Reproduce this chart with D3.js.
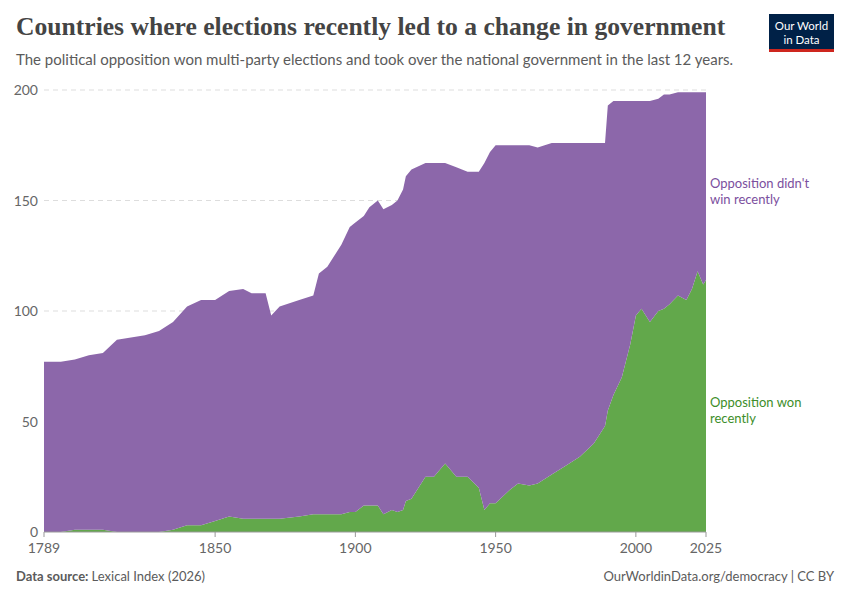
<!doctype html>
<html lang="en">
<head>
<meta charset="utf-8">
<script src="https://cdnjs.cloudflare.com/ajax/libs/d3/7.8.5/d3.min.js"></script>
<style>
body { margin: 0; background: #fff; font-family: Lato, "Noto Sans", sans-serif; }
</style>
</head>
<body>
<div id="chart"></div>
<script>
// data
var years = [1789,1795,1800,1805,1810,1815,1820,1825,1830,1835,1840,1845,1850,1855,1860,1863,1868,1870,1873,1880,1885,1887,1890,1895,1898,1900,1903,1905,1908,1910,1913,1915,1917,1918,1920,1925,1928,1932,1936,1940,1944,1946,1948,1950,1955,1958,1962,1965,1970,1975,1980,1985,1989,1990,1992,1995,1998,2000,2002,2005,2008,2010,2012,2015,2018,2020,2022,2024,2025];
var total = [77,77,78,80,81,87,88,89,91,95,102,105,105,109,110,108,108,98,102,105,107,117,120,130,138,140,143,147,150,146,148,150,155,161,164,167,167,167,165,163,163,167,172,175,175,175,175,174,176,176,176,176,176,193,195,195,195,195,195,195,196,198,198,199,199,199,199,199,199];
var won = [0,0,1,1,1,0,0,0,0,1,3,3,5,7,6,6,6,6,6,7,8,8,8,8,9,9,12,12,12,8,10,9,10,14,15,25,25,31,25,25,20,10,13,13,19,22,21,22,26,30,34,40,48,55,62,70,85,98,101,95,100,101,103,107,105,110,118,112,114];
var xTicks = [1789,1850,1900,1950,2000,2025];
var yTicks = [0,50,100,150,200];

var W = 850, H = 600;
var margin = {top: 90, right: 144, bottom: 68, left: 44};

var svg = d3.select("#chart").append("svg").attr("width", W).attr("height", H);

var x = d3.scaleLinear().domain([1789, 2025]).range([margin.left, W - margin.right]);
var y = d3.scaleLinear().domain([0, 200]).range([H - margin.bottom, margin.top]);

var rows = years.map(function(yr, i) { return {year: yr, won: won[i], other: total[i] - won[i]}; });
var stack = d3.stack().keys(["won", "other"])(rows);
var colors = {won: "#62a84b", other: "#8c67aa"};

// grid
svg.append("g").selectAll("line").data(yTicks.filter(function(d){ return d > 0; })).enter().append("line")
  .attr("x1", margin.left).attr("x2", W - margin.right)
  .attr("y1", function(d){ return y(d); }).attr("y2", function(d){ return y(d); })
  .attr("stroke", "#ddd").attr("stroke-dasharray", "5,4");

var area = d3.area()
  .x(function(d){ return x(d.data.year); })
  .y0(function(d){ return y(d[0]); })
  .y1(function(d){ return y(d[1]); });

svg.append("g").selectAll("path").data(stack).enter().append("path")
  .attr("d", area).attr("fill", function(d){ return colors[d.key]; });

// y labels
svg.append("g").selectAll("text").data(yTicks).enter().append("text")
  .attr("x", 38).attr("y", function(d){ return y(d) + 5; })
  .attr("text-anchor", "end").attr("font-size", 14).attr("fill", "#666").text(function(d){ return d; });

// x axis
svg.append("line").attr("x1", margin.left).attr("x2", W - margin.right)
  .attr("y1", y(0)).attr("y2", y(0)).attr("stroke", "#999");
var xg = svg.append("g").selectAll("g").data(xTicks).enter().append("g");
xg.append("line").attr("x1", function(d){ return x(d); }).attr("x2", function(d){ return x(d); })
  .attr("y1", y(0)).attr("y2", y(0) + 5).attr("stroke", "#999");
xg.append("text").attr("x", function(d){ return x(d); }).attr("y", y(0) + 21)
  .attr("text-anchor", "middle").attr("font-size", 14).attr("fill", "#666").text(function(d){ return d; });

// series labels
var lab = svg.append("g").attr("font-size", 13);
lab.append("text").attr("x", 710).attr("y", 188).attr("fill", "#7b4f9e").text("Opposition didn't");
lab.append("text").attr("x", 710).attr("y", 204).attr("fill", "#7b4f9e").text("win recently");
lab.append("text").attr("x", 710).attr("y", 407).attr("fill", "#3d8e2a").text("Opposition won");
lab.append("text").attr("x", 710).attr("y", 423).attr("fill", "#3d8e2a").text("recently");

// titles
svg.append("text").attr("x", 16).attr("y", 35).attr("font-family", "'Liberation Serif', 'DejaVu Serif', serif")
  .attr("font-size", 25.6).attr("font-weight", "bold").attr("fill", "#444")
  .text("Countries where elections recently led to a change in government");
svg.append("text").attr("x", 16).attr("y", 65).attr("font-size", 15).attr("fill", "#5b5b5b")
  .text("The political opposition won multi-party elections and took over the national government in the last 12 years.");

// logo
svg.append("rect").attr("x", 769).attr("y", 14).attr("width", 65).attr("height", 38).attr("fill", "#002147");
svg.append("rect").attr("x", 769).attr("y", 49).attr("width", 65).attr("height", 3).attr("fill", "#ce261e");
svg.append("text").attr("x", 801.5).attr("y", 30).attr("text-anchor", "middle").attr("font-size", 11.5).attr("fill", "#fff").text("Our World");
svg.append("text").attr("x", 801.5).attr("y", 44).attr("text-anchor", "middle").attr("font-size", 11.5).attr("fill", "#fff").text("in Data");

// footer
var ft = svg.append("text").attr("x", 16).attr("y", 581).attr("font-size", 13).attr("fill", "#5b5b5b");
ft.append("tspan").attr("font-weight", "bold").text("Data source: ");
ft.append("tspan").text("Lexical Index (2026)");
svg.append("text").attr("x", 834).attr("y", 581).attr("text-anchor", "end").attr("font-size", 13).attr("fill", "#5b5b5b")
  .text("OurWorldinData.org/democracy | CC BY");
</script>
</body>
</html>
